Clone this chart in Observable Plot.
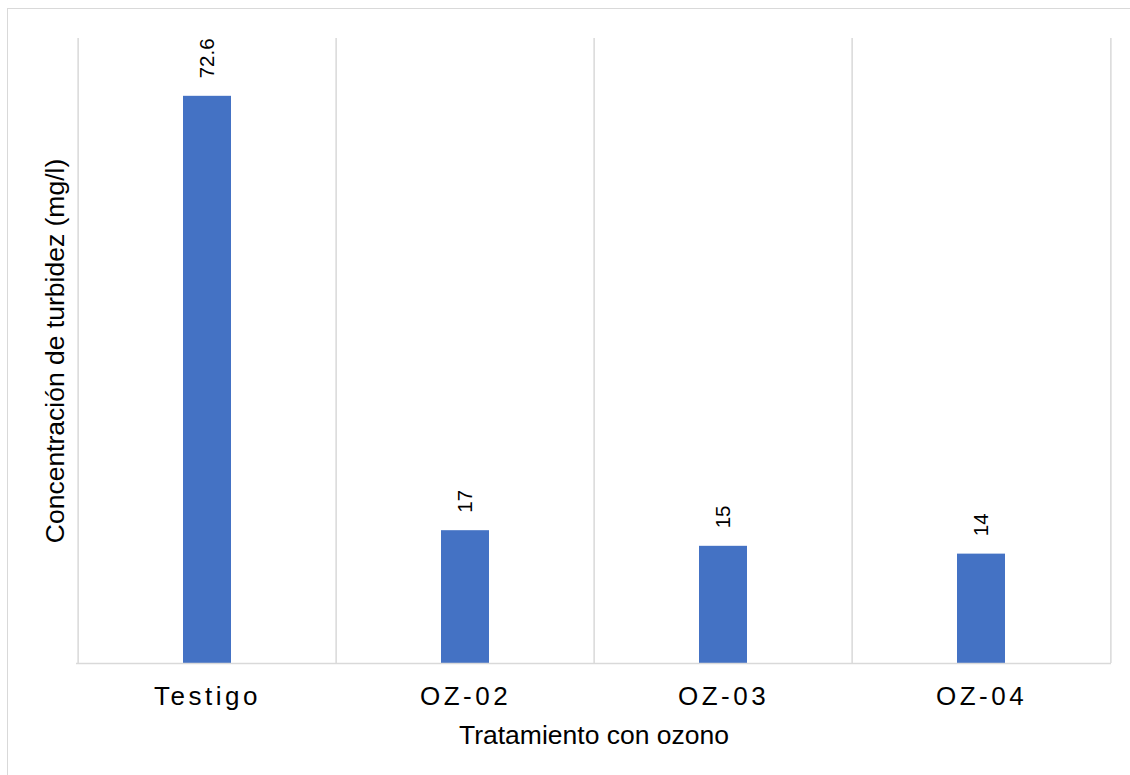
<!DOCTYPE html>
<html>
<head>
<meta charset="utf-8">
<script src="https://cdn.jsdelivr.net/npm/d3@7"></script>
<script src="https://cdn.jsdelivr.net/npm/@observablehq/plot@0.6"></script>
<style>
  html, body { margin: 0; padding: 0; background: #fff; overflow: hidden; }
  #wrap { position: relative; width: 1130px; height: 775px; }
  #border { position: absolute; left: 7px; top: 8px; width: 1300px; height: 900px; border: 1.5px solid #d9d9d9; box-sizing: border-box; }
  #chart { position: absolute; left: 0; top: 0; }
  #chart svg { background: transparent; font-family: "Liberation Sans", Arial, sans-serif; }
  g[aria-label="x-axis tick label"] text { letter-spacing: 3.5px; }
</style>
</head>
<body>
<div id="wrap"><div id="border"></div><div id="chart"></div></div>
<script>
const categories = ["Testigo", "OZ-02", "OZ-03", "OZ-04"];
const values = [72.6, 17, 15, 14];
const valueLabels = ["72.6", "17", "15", "14"];
const xTitle = "Tratamiento con ozono";
const yTitle = "Concentración de turbidez (mg/l)";

const data = categories.map((c, i) => ({cat: c, value: values[i], label: valueLabels[i]}));

const W = 1130, H = 775;
const mL = 76, mR = 19, mT = 38, mB = 112;
const step = (W - mL - mR) / categories.length;
const grid = "#d9d9d9";

const chart = Plot.plot({
  width: W,
  height: H,
  marginLeft: mL,
  marginRight: mR,
  marginTop: mT,
  marginBottom: mB,
  style: {fontFamily: "'Liberation Sans', Arial, sans-serif", background: "transparent", color: "#000"},
  x: {domain: categories, paddingInner: 0.8145, paddingOuter: 0.40725, label: null},
  y: {domain: [0, 80], axis: null},
  marks: [
    Plot.ruleX(categories, {x: d => d, dx: -step / 2, stroke: grid, strokeWidth: 1.5}),
    Plot.ruleX(categories.slice(-1), {x: d => d, dx: step / 2, stroke: grid, strokeWidth: 1.5}),
    Plot.barY(data, {x: "cat", y: "value", fill: "#4472C4"}),
    Plot.ruleY([0], {stroke: grid, strokeWidth: 1.5}),
    Plot.text(data, {x: "cat", y: "value", text: "label", rotate: -90, textAnchor: "start", lineAnchor: "middle", dy: -18, fontSize: 20.5, fill: "#000"}),
    Plot.axisX({tickSize: 0, tickPadding: 23, fontSize: 26, fill: "#000", label: null}),
    Plot.text([xTitle], {text: d => d, frameAnchor: "bottom", textAnchor: "middle", lineAnchor: "middle", dy: 72, fontSize: 26.5, fill: "#000"}),
    Plot.text([yTitle], {text: d => d, frameAnchor: "left", textAnchor: "middle", rotate: -90, lineAnchor: "middle", dx: -20.5, fontSize: 26.5, fill: "#000"})
  ]
});
document.getElementById("chart").appendChild(chart);
</script>
</body>
</html>
